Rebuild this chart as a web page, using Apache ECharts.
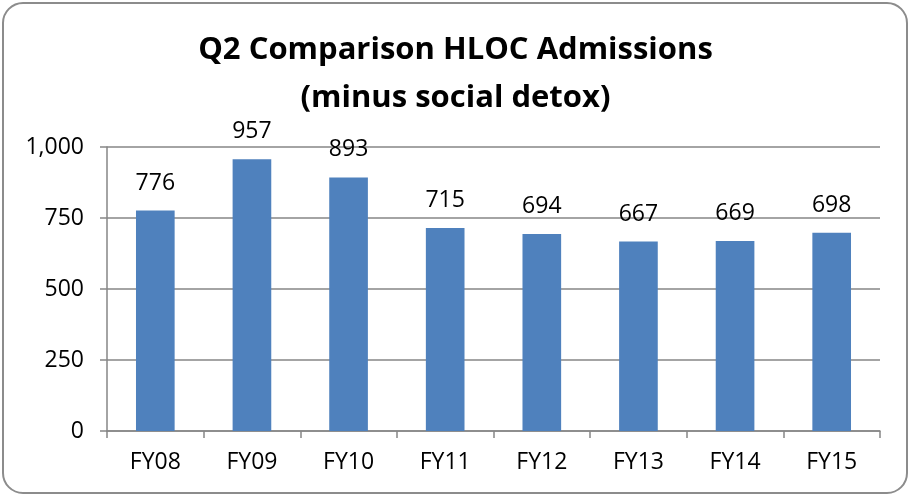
<!DOCTYPE html>
<html>
<head>
  <meta charset="utf-8"/>
  <title>Q2 Comparison HLOC Admissions</title>
  <script src="https://cdn.jsdelivr.net/npm/echarts@6/dist/echarts.min.js"></script>
  <style>
    html, body { margin: 0; padding: 0; background: #fff; }
    #chart { width: 911px; height: 497px; }
  </style>
</head>
<body>
<div id="chart"></div>
<script type="text/javascript">
var years = ['FY08', 'FY09', 'FY10', 'FY11', 'FY12', 'FY13', 'FY14', 'FY15'];
var admissions = [776, 957, 893, 715, 694, 667, 669, 698];

var chart = echarts.init(document.getElementById('chart'));
var font = 'Open Sans, Liberation Sans, sans-serif';

var option = {
  animation: false,
  graphic: [{
    type: 'rect',
    shape: { x: 3, y: 3, width: 904, height: 490, r: 20 },
    style: { fill: 'none', stroke: '#8c8c8c', lineWidth: 2 },
    silent: true
  }],
  title: {
    text: 'Q2 Comparison HLOC Admissions\n(minus social detox)',
    left: 'center',
    top: 21,
    textStyle: {
      fontFamily: font,
      fontSize: 31,
      fontWeight: 'bold',
      color: '#000',
      lineHeight: 48
    }
  },
  grid: { left: 107, right: 31, top: 147, bottom: 66 },
  xAxis: {
    type: 'category',
    data: years,
    axisLine: { lineStyle: { color: '#868686', width: 1.5 } },
    axisTick: { show: true, length: 7, lineStyle: { color: '#868686', width: 1.5 } },
    axisLabel: { color: '#000', fontSize: 23, fontFamily: font, margin: 20 }
  },
  yAxis: {
    type: 'value',
    min: 0,
    max: 1000,
    interval: 250,
    axisLine: { show: true, lineStyle: { color: '#868686', width: 1.5 } },
    axisTick: { show: true, length: 7, lineStyle: { color: '#868686', width: 1.5 } },
    splitLine: { lineStyle: { color: '#868686', width: 1.5 } },
    axisLabel: {
      color: '#000', fontSize: 23, fontFamily: font, margin: 23,
      formatter: function (v) { return v.toLocaleString('en-US'); }
    }
  },
  series: [{
    type: 'bar',
    data: admissions,
    barWidth: '40%',
    itemStyle: { color: '#4f81bd' },
    label: {
      show: true,
      position: 'top',
      distance: 16,
      color: '#000',
      fontSize: 23,
      fontFamily: font
    }
  }]
};

chart.setOption(option);
</script>
</body>
</html>
